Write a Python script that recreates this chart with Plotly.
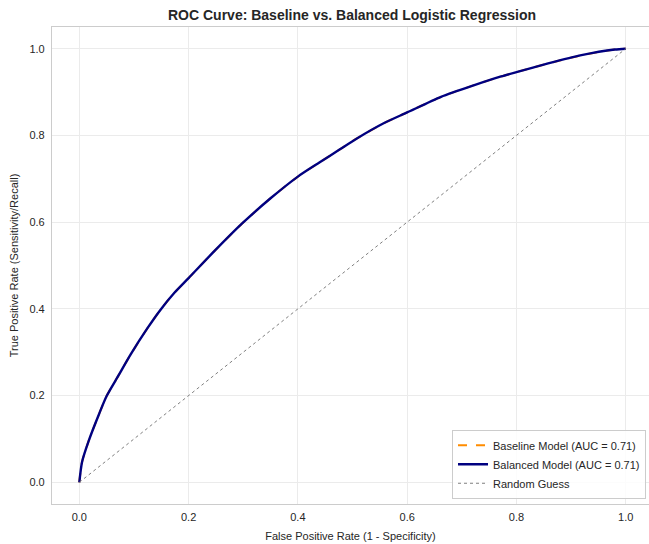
import plotly.graph_objects as go

# ROC curve points
fpr = [0.0, 0.005, 0.017, 0.036, 0.05, 0.072, 0.094, 0.125, 0.148, 0.174, 0.20,
       0.247, 0.298, 0.35, 0.40, 0.44, 0.477, 0.508, 0.557, 0.60, 0.662, 0.723,
       0.772, 0.80, 0.858, 0.919, 0.98, 1.0]
tpr = [0.0, 0.047, 0.095, 0.157, 0.199, 0.247, 0.295, 0.356, 0.397, 0.437, 0.471,
       0.533, 0.597, 0.655, 0.705, 0.738, 0.768, 0.793, 0.828, 0.853, 0.889, 0.916,
       0.936, 0.946, 0.966, 0.985, 0.998, 1.0]

baseline_fpr = fpr
baseline_tpr = tpr
balanced_fpr = fpr
balanced_tpr = tpr

diag = [0.0, 1.0]
ticks = [0.0, 0.2, 0.4, 0.6, 0.8, 1.0]
tick_labels = ["0.0", "0.2", "0.4", "0.6", "0.8", "1.0"]

FONT = "Liberation Sans, Arial, sans-serif"

fig = go.Figure()
fig.add_trace(go.Scatter(x=baseline_fpr, y=baseline_tpr, mode="lines",
                         name="Baseline Model (AUC = 0.71)",
                         line=dict(color="darkorange", width=2, dash="dash",
                                   shape="spline", smoothing=0.7)))
fig.add_trace(go.Scatter(x=balanced_fpr, y=balanced_tpr, mode="lines",
                         name="Balanced Model (AUC = 0.71)",
                         line=dict(color="navy", width=2.4,
                                   shape="spline", smoothing=0.7)))
fig.add_trace(go.Scatter(x=diag, y=diag, mode="lines", name="Random Guess",
                         line=dict(color="gray", width=1, dash="dot")))

fig.update_layout(
    width=649, height=544,
    margin=dict(l=52, r=0, t=27, b=40),
    paper_bgcolor="white", plot_bgcolor="white",
    font=dict(family=FONT, size=11, color="#262626"),
    title=dict(text="<b>ROC Curve: Baseline vs. Balanced Logistic Regression</b>",
               x=352 / 649, xanchor="center", y=1 - 15 / 544, yanchor="middle",
               font=dict(size=14, color="#262626")),
    showlegend=True,
    legend=dict(x=0.995, xanchor="right", y=0.011, yanchor="bottom",
                bgcolor="rgba(255,255,255,0.85)", bordercolor="#cccccc", borderwidth=1,
                font=dict(size=11, color="#262626"), tracegroupgap=0,
                itemwidth=30),
)
fig.update_xaxes(range=[-0.05, 1.0426], tickvals=ticks, ticktext=tick_labels,
                 automargin=False, ticklabelstandoff=3,
                 showgrid=True, gridcolor="#ebebeb", gridwidth=1, zeroline=False,
                 showline=True, linecolor="#cccccc", linewidth=1.25, mirror=True,
                 ticks="", title=dict(text="False Positive Rate (1 - Specificity)",
                                      font=dict(size=11), standoff=9),
                 tickfont=dict(size=11))
fig.update_yaxes(range=[-0.05, 1.05], tickvals=ticks, ticktext=tick_labels,
                 automargin=False, ticklabelstandoff=4,
                 showgrid=True, gridcolor="#ebebeb", gridwidth=1, zeroline=False,
                 showline=True, linecolor="#cccccc", linewidth=1.25, mirror=True,
                 ticks="", title=dict(text="True Positive Rate (Sensitivity/Recall)",
                                      font=dict(size=11), standoff=8),
                 tickfont=dict(size=11))

fig.write_html("out.html", config={"displayModeBar": False},
               post_script="document.body.style.margin='0';document.body.style.overflow='hidden';")
